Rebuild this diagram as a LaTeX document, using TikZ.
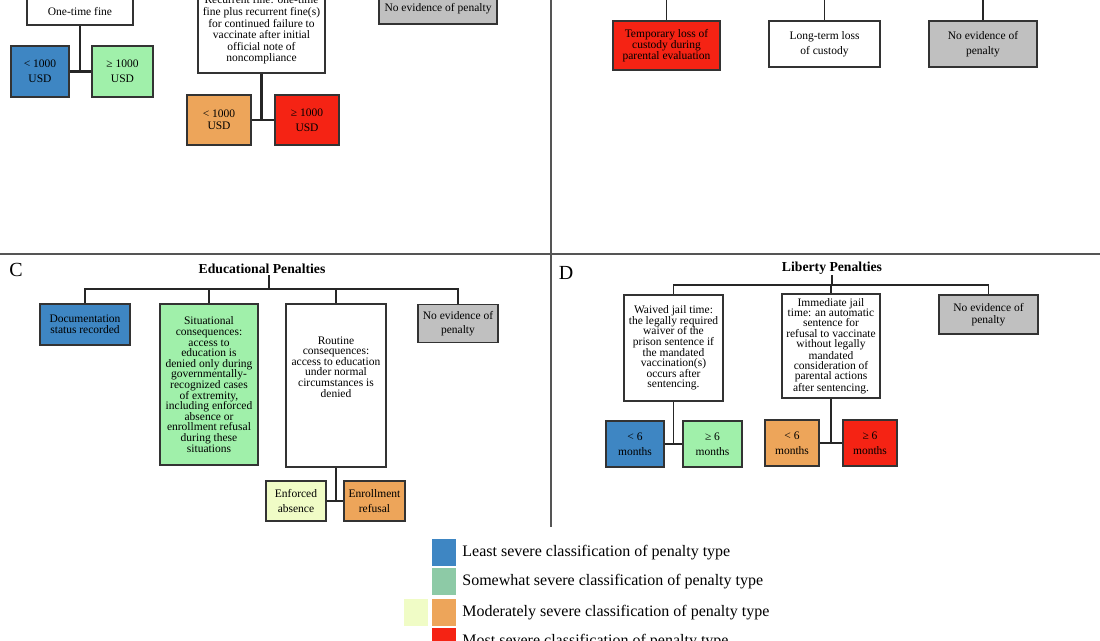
\documentclass[tikz,border=0pt]{standalone}
\usepackage{fontspec}
\setmainfont{Liberation Serif}
\usepackage{tikz}
\usetikzlibrary{positioning}
\definecolor{leastblue}{RGB}{62,134,195}
\definecolor{somewhatgreen}{RGB}{160,240,170}
\definecolor{legendgreen}{RGB}{141,202,166}
\definecolor{moderateorange}{RGB}{237,165,90}
\definecolor{mostred}{RGB}{245,35,20}
\definecolor{nopenaltygrey}{RGB}{192,192,192}
\definecolor{paleyellow}{RGB}{240,252,198}
\definecolor{dividergrey}{RGB}{85,85,85}

\begin{document}
\begin{tikzpicture}[
    x=1pt, y=-1pt,
    box/.style={
        draw=black!80,
        line width=1.1pt,
        align=center,
        inner sep=2pt,
        font=\fontsize{11.5}{10.6}\selectfont
    },
    link/.style={draw=black!85, line width=1.5pt},
    stem/.style={draw=black!85, line width=2.2pt},
    divider/.style={draw=dividergrey, line width=1.8pt},
    paneltitle/.style={font=\fontsize{13.7}{15}\selectfont\bfseries, inner sep=1pt},
    panelletter/.style={font=\fontsize{20}{22}\selectfont, inner sep=0pt},
    swatch/.style={minimum width=24pt, minimum height=27pt, inner sep=0pt},
    legendtext/.style={font=\fontsize{16}{18}\selectfont, inner sep=0pt}
]
\useasboundingbox (0,0) rectangle (1100,640);
\clip (0,0) rectangle (1100,640);

\draw[divider] (0,254) -- (1100,254);
\draw[divider] (551,0) -- (551,527);

\node[box, minimum width=106pt, minimum height=27pt] (onetime) at (80,11.5) {One-time fine};
\node[box, fill=leastblue, minimum width=58pt, minimum height=51pt] (onetimelow) at (40,71.5) {< 1000\\[4pt]USD};
\node[box, fill=somewhatgreen, minimum width=61pt, minimum height=51pt] (onetimehigh) at (122.5,71.5) {≥ 1000\\[4pt]USD};

\node[box, font=\fontsize{11.5}{11.6}\selectfont, minimum width=127pt, minimum height=86pt] (recurrent) at (261.5,30) {
    Recurrent fine: one-time\\
    fine plus recurrent fine(s)\\
    for continued failure to\\
    vaccinate after initial\\
    official note of\\
    noncompliance
};
\node[box, fill=moderateorange, minimum width=64pt, minimum height=50pt] (recurrentlow) at (219,120) {< 1000\\[1pt]USD};
\node[box, fill=mostred, minimum width=64pt, minimum height=50pt] (recurrenthigh) at (307,120) {≥ 1000\\[4pt]USD};

\node[box, fill=nopenaltygrey, minimum width=118pt, minimum height=30pt] (nofine) at (438,9) {No evidence of penalty};

\draw[stem] (onetime.south) -- (onetime.south |- onetimelow.east);
\draw[stem] (onetimelow.east) -- (onetimehigh.west);
\draw[stem] (recurrent.south) -- (recurrent.south |- recurrentlow.east);
\draw[stem] (recurrentlow.east) -- (recurrenthigh.west);

\coordinate (topB) at (0,-5);
\node[box, fill=mostred, font=\fontsize{11.5}{11}\selectfont, minimum width=107pt, minimum height=49pt] (tempcustody) at (666.5,45.5) {
    Temporary loss of\\
    custody during\\
    parental evaluation
};
\node[box, minimum width=111pt, minimum height=46pt] (longcustody) at (824.5,44) {Long-term loss\\[4pt]of custody};
\node[box, fill=nopenaltygrey, minimum width=108pt, minimum height=46pt] (nocustody) at (983,44) {No evidence of\\[4pt]penalty};

\draw[link] (tempcustody.north |- topB) -- (tempcustody.north);
\draw[link] (longcustody.north |- topB) -- (longcustody.north);
\draw[link] (nocustody.north |- topB) -- (nocustody.north);

\node[panelletter] (letterC) at (16,270) {C};
\node[paneltitle] (titleC) at (262,269) {Educational Penalties};
\coordinate (stemC) at (269,0);
\coordinate (barC) at (0,289);

\node[box, fill=leastblue, font=\fontsize{11.5}{11}\selectfont, minimum width=90pt, minimum height=41pt] (documentation) at (85,324.5) {
    Documentation\\
    status recorded
};
\node[box, fill=somewhatgreen, minimum width=98pt, minimum height=161pt] (situational) at (209,384.5) {
    Situational\\
    consequences:\\
    access to\\
    education is\\
    denied only during\\
    governmentally-\\
    recognized cases\\
    of extremity,\\
    including enforced\\
    absence or\\
    enrollment refusal\\
    during these\\
    situations
};
\node[box, minimum width=100pt, minimum height=163pt] (routine) at (336,385.5) {
    Routine\\
    consequences:\\
    access to education\\
    under normal\\
    circumstances is\\
    denied\\[27pt]
    \mbox{}
};
\node[box, fill=nopenaltygrey, minimum width=80pt, minimum height=38pt] (noeducation) at (458,323.5) {No evidence of\\[4pt]penalty};
\node[box, fill=paleyellow, minimum width=60pt, minimum height=40pt] (enforced) at (296,501) {Enforced\\[4pt]absence};
\node[box, fill=moderateorange, minimum width=61pt, minimum height=40pt] (enrollment) at (374.5,501) {Enrollment\\[4pt]refusal};

\draw[stem] (stemC |- titleC.south) -- (stemC |- barC);
\draw[link] (documentation.north) -- (documentation.north |- barC) -- (noeducation.north |- barC) -- (noeducation.north);
\draw[link] (situational.north |- barC) -- (situational.north);
\draw[link] (routine.north |- barC) -- (routine.north);
\draw[link] (routine.south) -- (routine.south |- enforced.east);
\draw[link] (enforced.east) -- (enrollment.west);

\node[panelletter] (letterD) at (566,273) {D};
\node[paneltitle] (titleD) at (832,268) {Liberty Penalties};
\coordinate (barD) at (0,285);

\node[box, minimum width=99pt, minimum height=106pt] (waived) at (673.5,348) {
    Waived jail time:\\
    the legally required\\
    waiver of the\\
    prison sentence if\\
    the mandated\\
    vaccination(s)\\
    occurs after\\
    sentencing.
};
\node[box, font=\fontsize{11.5}{10.4}\selectfont, minimum width=98pt, minimum height=104pt] (immediate) at (831,346) {
    Immediate jail\\
    time: an automatic\\
    sentence for\\
    refusal to vaccinate\\
    without legally\\
    mandated\\
    consideration of\\
    parental actions\\
    after sentencing.
};
\node[box, fill=nopenaltygrey, font=\fontsize{11.5}{12}\selectfont, minimum width=99pt, minimum height=39pt] (noliberty) at (988.5,314.5) {No evidence of\\penalty};
\node[box, fill=leastblue, minimum width=58pt, minimum height=46pt] (waivedshort) at (635,444) {< 6\\[4pt]months};
\node[box, fill=somewhatgreen, minimum width=59pt, minimum height=46pt] (waivedlong) at (712.5,444) {≥ 6\\[4pt]months};
\node[box, fill=moderateorange, minimum width=54pt, minimum height=46pt] (immediateshort) at (792,443) {< 6\\[4pt]months};
\node[box, fill=mostred, minimum width=54pt, minimum height=46pt] (immediatelong) at (870,443) {≥ 6\\[4pt]months};

\draw[stem] (titleD.south) -- (titleD.south |- barD);
\draw[link] (waived.north) -- (waived.north |- barD) -- (noliberty.north |- barD) -- (noliberty.north);
\draw[link] (immediate.north |- barD) -- (immediate.north);
\draw[link] (waived.south) -- (waived.south |- waivedshort.east);
\draw[link] (waivedshort.east) -- (waivedlong.west);
\draw[stem] (immediate.south) -- (immediate.south |- immediateshort.east);
\draw[link] (immediateshort.east) -- (immediatelong.west);

\node[swatch, fill=leastblue] (keyleast) at (444,552.5) {};
\node[swatch, fill=legendgreen] (keysomewhat) at (444,581.5) {};
\node[swatch, fill=moderateorange] (keymoderate) at (444,612.5) {};
\node[swatch, fill=mostred] (keymost) at (444,641.5) {};
\node[swatch, fill=paleyellow] (keypale) at (416,612.5) {};

\node[legendtext, right=6pt of keyleast] (labelleast) {Least severe classification of penalty type};
\node[legendtext, right=6pt of keysomewhat] (labelsomewhat) {Somewhat severe classification of penalty type};
\node[legendtext, right=6pt of keymoderate] (labelmoderate) {Moderately severe classification of penalty type};
\node[legendtext, right=6pt of keymost] (labelmost) {Most severe classification of penalty type};

\end{tikzpicture}
\end{document}
